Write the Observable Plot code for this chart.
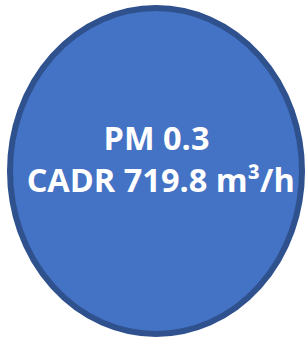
<!DOCTYPE html>
<html>
<head>
<meta charset="utf-8">
<script src="https://cdn.jsdelivr.net/npm/d3@7"></script>
<script src="https://cdn.jsdelivr.net/npm/@observablehq/plot@0.6"></script>
<style>
  html, body { margin: 0; padding: 0; background: #ffffff; }
  #chart svg { display: block; }
</style>
</head>
<body>
<div id="chart"></div>
<script>
// Chart content
const labels = ["PM 0.3", "\u00a0CADR 719.8 m\u00b3/h"];
const shapes = ["bubble"];

const fillColor = "#4472C4";
const strokeColor = "#2F528F";

const chart = Plot.plot({
  width: 308,
  height: 338,
  marginLeft: 10,
  marginRight: 6,
  marginTop: 8,
  marginBottom: 4,
  x: {domain: [0, 1], axis: null},
  y: {domain: [0, 1], axis: null, reverse: true},
  style: {background: "#ffffff"},
  marks: [
    Plot.rect(shapes, {
      x1: () => 0, x2: () => 1, y1: () => 0, y2: () => 1,
      rx: "50%", ry: "50%",
      fill: fillColor, stroke: strokeColor, strokeWidth: 6
    }),
    Plot.text([labels.join("\n")], {
      x: () => 0.5, y: () => 0.5,
      text: d => d,
      fill: "#ffffff",
      fontSize: 32.5,
      fontWeight: "bold",
      fontFamily: "'Open Sans', sans-serif",
      lineHeight: 1.3,
      lineAnchor: "middle",
      textAnchor: "middle",
      dy: -14
    })
  ]
});
document.getElementById("chart").appendChild(chart);
</script>
</body>
</html>
